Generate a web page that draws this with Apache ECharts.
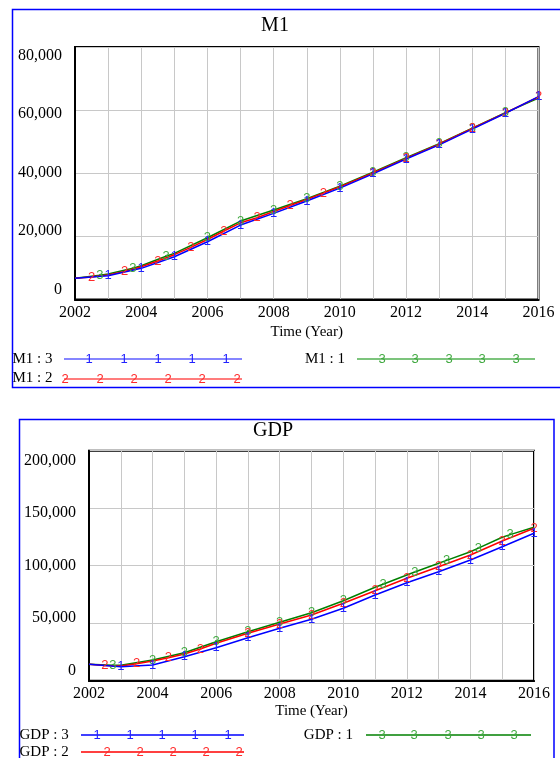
<!DOCTYPE html>
<html>
<head>
<meta charset="utf-8">
<script src="https://cdn.jsdelivr.net/npm/echarts@6/dist/echarts.min.js"></script>
<style>
html,body{margin:0;padding:0;background:#fff;}
#main{width:560px;height:758px;}
</style>
</head>
<body>
<div id="main"></div>
<script>
// ---------- data ----------
const years = [2002,2003,2004,2005,2006,2007,2008,2009,2010,2011,2012,2013,2014,2015,2016];
const xTickYears = [2002,2004,2006,2008,2010,2012,2014,2016];
const m1Ticks = [0,20000,40000,60000,80000];
const gdpTicks = [0,50000,100000,150000,200000];

// M1 : 3 (line 1, blue)
const m1R3Time = years;
const m1R3 = [6700,7550,9870,13550,18300,23580,27280,31200,35300,39800,44500,49000,54000,59000,64300];
const m1R3Marks = [2003,2004,2005,2006,2007,2008,2009,2010,2011,2012,2013,2014,2015,2016];
// M1 : 2 (line 2, red)
const m1R2Time = [2002,2002.5,2003,2003.5,2004,2004.5,2005,2005.5,2006,2006.5,2007,2007.5,2008,2008.5,2009,2009.5,2010,2011,2012,2013,2014,2015,2016];
const m1R2 = [6700,7100,7800,8900,10400,12200,14200,16500,19000,21700,24300,25900,27900,29800,31700,33700,35700,40100,44700,49200,54200,59100,64200];
const m1R2Marks = [2002.5,2003.5,2004.5,2005.5,2006.5,2007.5,2008.5,2009.5,2011,2012,2013,2014,2015,2016];
// M1 : 1 (line 3, green)
const m1R1Time = [2002,2002.75,2003,2003.75,2004,2004.75,2005,2006,2007,2008,2009,2010,2011,2012,2013,2014,2015,2016];
const m1R1 = [6700,7700,8070,9900,10700,13700,14620,19560,24850,28330,31900,35900,40300,44900,49400,54300,59200,63800];
const m1R1Marks = [2002.75,2003.75,2004.75,2006,2007,2008,2009,2010,2011,2012,2013,2014,2015];

// GDP : 3 (line 1, blue)
const gdpR3Time = years;
const gdpR3 = [14260,12170,13650,20870,28700,37400,45570,53400,62960,74530,85220,94790,104960,116530,128180];
const gdpR3Marks = [2003,2004,2005,2006,2007,2008,2009,2010,2011,2012,2013,2014,2015,2016];
// GDP : 2 (line 2, red)
const gdpR2Time = [2002,2002.5,2003,2003.5,2004,2004.5,2005,2005.5,2006,2007,2008,2009,2010,2011,2012,2013,2014,2015,2016];
const gdpR2 = [14260,13300,12780,14700,17130,19900,23220,27600,32520,41200,49300,57130,67300,78260,89050,99130,109310,121480,132530];
const gdpR2Marks = [2002.5,2003.5,2004.5,2005.5,2007,2008,2009,2010,2011,2012,2013,2014,2015,2016];
// GDP : 1 (line 3, green)
const gdpR1Time = [2002,2002.75,2003,2004,2005,2006,2007,2008,2009,2010,2011,2011.25,2012,2012.25,2013,2013.25,2014,2014.25,2015,2015.25,2016];
const gdpR1 = [14260,13500,13390,18000,24350,33900,42600,50780,59130,69570,81220,83900,91920,94500,102090,104600,112180,115300,124700,127000,133400];
const gdpR1Marks = [2002.75,2004,2005,2006,2007,2008,2009,2010,2011.25,2012.25,2013.25,2014.25,2015.25];

// ---------- styling ----------
const SERIF = 'Liberation Serif';
const SANS = 'Liberation Sans';
const BLUE = '#0000ff', RED = '#ff0000', GREEN = '#008000';
const GBLUE = '#2222ff', GRED = '#ff2a2a', GGREEN = '#3fa83f';
const fmt = v => Math.round(v).toLocaleString('en-US');

function buildData(times, vals, marks) {
  return times.map((t, i) => marks.indexOf(t) >= 0
    ? { value: [t, vals[i]], symbol: 'circle', symbolSize: 2 }
    : { value: [t, vals[i]], symbol: 'none' });
}
function lineSeries(name, gi, times, vals, marks, color, glyph, glyphColor) {
  return {
    name, type: 'line', xAxisIndex: gi, yAxisIndex: gi * 2,
    data: buildData(times, vals, marks),
    lineStyle: { color, width: 1.5 },
    itemStyle: { color: 'rgba(0,0,0,0)' },
    label: { show: true, position: 'inside', formatter: glyph, color: glyphColor,
             fontFamily: SANS, fontSize: 13 },
    silent: true, animation: false, showSymbol: true
  };
}

function xAxis(gi, gap) {
  return {
    type: 'value', gridIndex: gi, min: 2002, max: 2016, interval: 1,
    name: 'Time (Year)', nameLocation: 'middle', nameGap: gap,
    nameTextStyle: { fontFamily: SERIF, fontSize: 15, color: '#000' },
    axisLine: { show: true, lineStyle: { color: '#000', width: 2 } },
    axisTick: { show: false },
    splitLine: { show: true, lineStyle: { color: '#c8c8c8', width: 1 } },
    axisLabel: { margin: 5, fontFamily: SERIF, fontSize: 16, color: '#000',
                 formatter: v => xTickYears.indexOf(v) >= 0 ? String(v) : '' }
  };
}
function yAxisMain(gi, max, interval) {
  return {
    type: 'value', gridIndex: gi, min: 0, max, interval,
    axisLine: { show: true, lineStyle: { color: '#000', width: 2 } },
    axisTick: { show: false },
    splitLine: { show: true, lineStyle: { color: '#c8c8c8', width: 1 } },
    axisLabel: { show: false }
  };
}
function yAxisLabels(gi, min, max, ticks) {
  return {
    type: 'value', gridIndex: gi, min, max, position: 'left',
    axisLine: { show: false }, axisTick: { show: false }, splitLine: { show: false },
    axisLabel: { margin: 13, fontFamily: SERIF, fontSize: 16, color: '#000',
                 customValues: ticks, formatter: v => fmt(v) }
  };
}

// legend graphics
function legendLine(x1, x2, y, color, glyph, glyphColor, glyphXs) {
  const els = [{ type: 'line', shape: { x1, y1: y, x2, y2: y }, style: { stroke: color, lineWidth: 1.5 }, silent: true }];
  glyphXs.forEach(gx => els.push({ type: 'text', x: gx, y: y, silent: true,
    style: { text: glyph, fill: glyphColor, font: '13px ' + SANS, align: 'center', verticalAlign: 'middle' } }));
  return els;
}
function legendText(x, y, txt, align) {
  return { type: 'text', x, y, silent: true,
    style: { text: txt, fill: '#000', font: '15px ' + SERIF, align: align || 'left', verticalAlign: 'middle' } };
}

const graphics = [
  { type: 'rect', shape: { x: 12.5, y: 9.5, width: 560, height: 378 }, style: { fill: 'none', stroke: '#0000ff', lineWidth: 1.5 }, silent: true, z: -1 },
  { type: 'rect', shape: { x: 19.5, y: 419.5, width: 534.5, height: 360 }, style: { fill: 'none', stroke: '#0000ff', lineWidth: 1.5 }, silent: true, z: -1 },
  legendText(12.5, 359, 'M1 : 3'),
  ...legendLine(64, 242, 359, '#5c5cff', '1', GBLUE, [89, 124, 158, 192, 226]),
  legendText(12.5, 378, 'M1 : 2'),
  ...legendLine(64, 242, 379, '#ff5050', '2', GRED, [65, 100, 134, 168, 202, 237]),
  legendText(345, 359, 'M1 : 1', 'right'),
  ...legendLine(357, 535, 359, '#50b050', '3', GGREEN, [382, 415, 449, 482, 516]),
  legendText(19.5, 735, 'GDP : 3'),
  ...legendLine(81, 244, 735, BLUE, '1', GBLUE, [97, 130, 162, 195, 228]),
  legendText(19.5, 752, 'GDP : 2'),
  ...legendLine(81, 244, 752, RED, '2', GRED, [107, 140, 173, 206, 239]),
  legendText(353, 735, 'GDP : 1', 'right'),
  ...legendLine(366, 531, 735, GREEN, '3', GGREEN, [382, 414, 448, 481, 514])
];

const chart = echarts.init(document.getElementById('main'), null, { renderer: 'canvas' });
chart.setOption({
  animation: false,
  backgroundColor: '#fff',
  title: [
    { text: 'M1', left: 275, top: 16, textAlign: 'center', padding: 0,
      textStyle: { fontFamily: SERIF, fontSize: 20, fontWeight: 'normal', color: '#000' } },
    { text: 'GDP', left: 273, top: 421, textAlign: 'center', padding: 0,
      textStyle: { fontFamily: SERIF, fontSize: 20, fontWeight: 'normal', color: '#000' } }
  ],
  grid: [
    { left: 75, top: 47, width: 463.5, height: 252.5, show: true, borderColor: '#000', borderWidth: 2, backgroundColor: '#fff' },
    { left: 89, top: 450.7, width: 445, height: 230, show: true, borderColor: '#000', borderWidth: 2, backgroundColor: '#fff' }
  ],
  xAxis: [xAxis(0, 25), xAxis(1, 23)],
  yAxis: [
    yAxisMain(0, 80000, 20000),
    yAxisLabels(0, -3419, 82906, m1Ticks),
    yAxisMain(1, 200000, 50000),
    yAxisLabels(1, -9524, 209524, gdpTicks)
  ],
  series: [
    lineSeries('M1 : 1', 0, m1R1Time, m1R1, m1R1Marks, GREEN, '3', GGREEN),
    lineSeries('M1 : 2', 0, m1R2Time, m1R2, m1R2Marks, RED, '2', GRED),
    lineSeries('M1 : 3', 0, m1R3Time, m1R3, m1R3Marks, BLUE, '1', GBLUE),
    lineSeries('GDP : 1', 1, gdpR1Time, gdpR1, gdpR1Marks, GREEN, '3', GGREEN),
    lineSeries('GDP : 2', 1, gdpR2Time, gdpR2, gdpR2Marks, RED, '2', GRED),
    lineSeries('GDP : 3', 1, gdpR3Time, gdpR3, gdpR3Marks, BLUE, '1', GBLUE)
  ],
  graphic: graphics
});
</script>
</body>
</html>
